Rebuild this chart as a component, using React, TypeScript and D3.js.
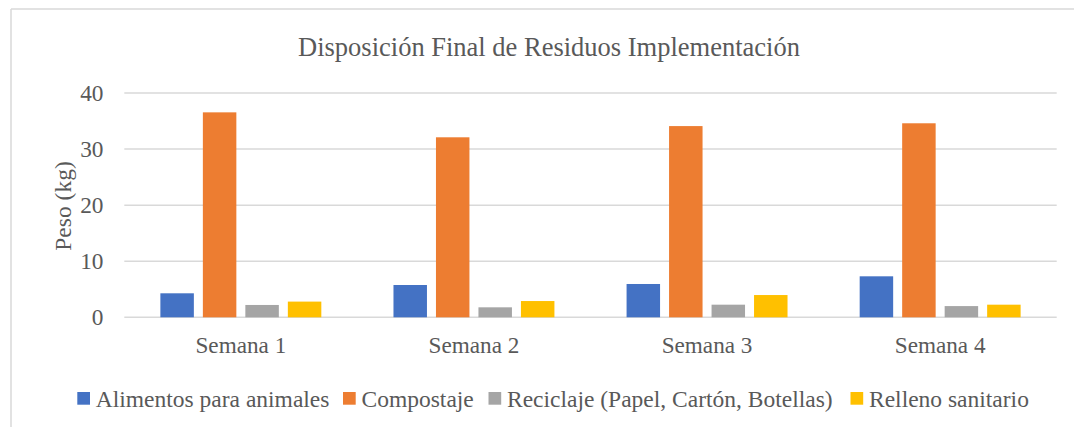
import React from "react";
import * as d3 from "d3";

const categories = ["Semana 1", "Semana 2", "Semana 3", "Semana 4"];
const seriesNames = [
  "Alimentos para animales",
  "Compostaje",
  "Reciclaje (Papel, Cartón, Botellas)",
  "Relleno sanitario",
];
const alimentos = [4.28, 5.76, 5.94, 7.31];
const compostaje = [36.55, 32.1, 34.1, 34.6];
const reciclaje = [2.2, 1.78, 2.25, 2.0];
const relleno = [2.8, 2.9, 3.97, 2.25];
const yTicks = [0, 10, 20, 30, 40];
const colors = ["#4472C4", "#ED7D31", "#A5A5A5", "#FFC000"];
const title = "Disposición Final de Residuos Implementación";
const yLabel = "Peso (kg)";

const W = 1074;
const H = 427;
const FONT = "'Liberation Serif', 'Times New Roman', serif";
const TXT = "#595959";

export default function App() {
  const series = [alimentos, compostaje, reciclaje, relleno];
  const x0 = d3.scaleBand<string>().domain(categories).range([124.3, 1056.7]).padding(0);
  const x1 = d3
    .scaleBand<string>()
    .domain(seriesNames)
    .range([0, x0.bandwidth()])
    .paddingInner(0.212)
    .paddingOuter(0.849);
  const y = d3.scaleLinear().domain([0, 40]).range([317.3, 93]);

  const legendX = [77.3, 343, 488.5, 850.5];

  return (
    <svg
      width={W}
      height={H}
      style={{ position: "absolute", left: 0, top: 0, background: "#fff" }}
      fontFamily={FONT}
    >
      <rect x={0} y={0} width={W} height={H} fill="#fff" />
      <line x1={11} y1={9} x2={W} y2={9} stroke="#D9D9D9" strokeWidth={1.5} />
      <line x1={11} y1={9} x2={11} y2={H} stroke="#D9D9D9" strokeWidth={1.5} />
      <text x={549} y={55.5} textAnchor="middle" fontSize={26.5} fill={TXT}>
        {title}
      </text>
      {yTicks.map((t) => (
        <g key={t}>
          <line
            x1={124.3}
            x2={1056.7}
            y1={y(t)}
            y2={y(t)}
            stroke="#D9D9D9"
            strokeWidth={1.5}
          />
          <text x={103.5} y={y(t) + 7.8} textAnchor="end" fontSize={23.3} fill={TXT}>
            {t}
          </text>
        </g>
      ))}
      <text
        transform={`translate(70.5,206) rotate(-90)`}
        textAnchor="middle"
        fontSize={23.5}
        fill={TXT}
      >
        {yLabel}
      </text>
      {categories.map((c, ci) => (
        <g key={c} transform={`translate(${x0(c)},0)`}>
          {seriesNames.map((s, si) => (
            <rect
              key={s}
              x={x1(s)}
              y={y(series[si][ci])}
              width={x1.bandwidth()}
              height={y(0) - y(series[si][ci])}
              fill={colors[si]}
            />
          ))}
          <text
            x={x0.bandwidth() / 2}
            y={353.3}
            textAnchor="middle"
            fontSize={23.2}
            fill={TXT}
          >
            {c}
          </text>
        </g>
      ))}
      {seriesNames.map((s, si) => (
        <g key={s}>
          <rect x={legendX[si]} y={392} width={12.7} height={12.7} fill={colors[si]} />
          <text x={legendX[si] + 18.5} y={406.5} fontSize={23.5} fill={TXT}>
            {s}
          </text>
        </g>
      ))}
    </svg>
  );
}
